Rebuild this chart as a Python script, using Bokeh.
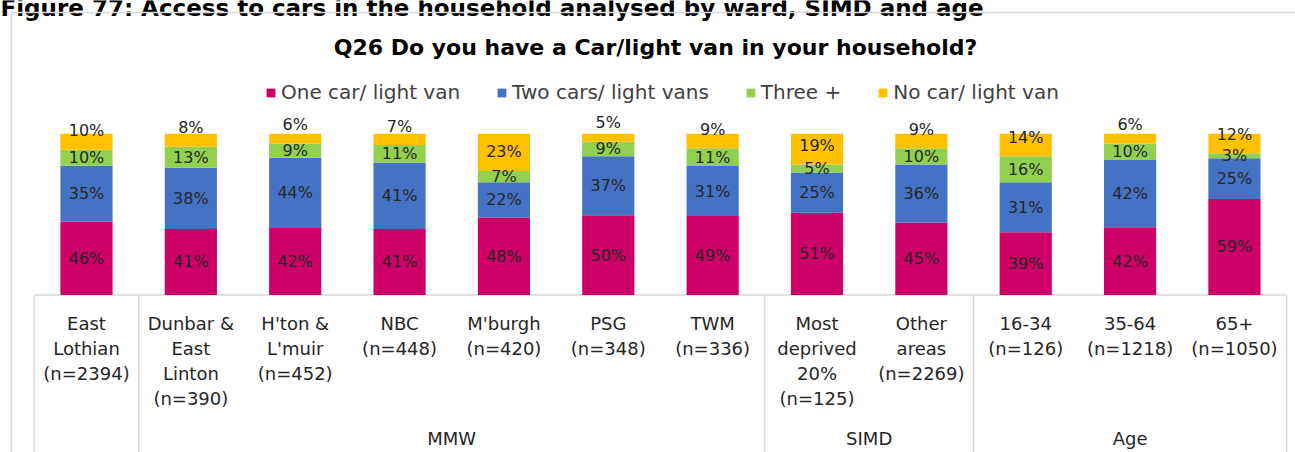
import numpy as np
from bokeh.plotting import figure
from bokeh.models import ColumnDataSource, Range1d, Legend, LegendItem
from bokeh.core.properties import value
from bokeh.embed import file_html
from bokeh.resources import INLINE

# ---------------- data ----------------
heading_text = "Figure 77: Access to cars in the household analysed by ward, SIMD and age"
title_text = "Q26 Do you have a Car/light van in your household?"
categories = [
    "East\nLothian\n(n=2394)",
    "Dunbar &\nEast\nLinton\n(n=390)",
    "H'ton &\nL'muir\n(n=452)",
    "NBC\n(n=448)",
    "M'burgh\n(n=420)",
    "PSG\n(n=348)",
    "TWM\n(n=336)",
    "Most\ndeprived\n20%\n(n=125)",
    "Other\nareas\n(n=2269)",
    "16-34\n(n=126)",
    "35-64\n(n=1218)",
    "65+\n(n=1050)",
]
groups = ["", "MMW", "MMW", "MMW", "MMW", "MMW", "MMW", "SIMD", "SIMD", "Age", "Age", "Age"]
series = ["One car/ light van", "Two cars/ light vans", "Three +", "No car/ light van"]
one_car = [46, 41, 42, 41, 48, 50, 49, 51, 45, 39, 42, 59]
two_cars = [35, 38, 44, 41, 22, 37, 31, 25, 36, 31, 42, 25]
three_plus = [10, 13, 9, 11, 7, 9, 11, 5, 10, 16, 10, 3]
no_car = [10, 8, 6, 7, 23, 5, 9, 19, 9, 14, 6, 12]
colors = ["#CC0066", "#4472C4", "#92D050", "#FFC000"]

# ---------------- layout helpers ----------------
W, H = 1295, 452
PAGE = 0
UX = 104.36      # px per category
X0 = 33.8        # x of category-axis start
UY = 1.612       # px per percent
Y0 = 294.5       # y of 0%


def dx(rx):
    return (rx - X0) / UX


def dy(ry):
    return (Y0 - ry) / UY


FONT = value("DejaVu Sans")
TXT = "#262626"
GRID = "#d9d9d9"

p = figure(width=W, height=H,
           x_range=Range1d(dx(PAGE), dx(PAGE + W)),
           y_range=Range1d(dy(PAGE + H), dy(PAGE)),
           output_backend="svg", toolbar_location=None,
           x_axis_location=None, y_axis_location=None,
           min_border=0, outline_line_color=None)
p.grid.visible = False
p.background_fill_color = "white"
p.border_fill_color = "white"

n = len(categories)
xs = np.arange(n) + 0.5

# page heading (cut off at the top, as in the source)
p.text(x=[dx(0)], y=[dy(7)], text=[heading_text], text_font=FONT,
       text_font_size="23px", text_font_style="bold",
       text_align="left", text_baseline="alphabetic", text_color="#000000")

# chart border (light grey box)
p.segment(x0=[dx(11), dx(11)], y0=[dy(12), dy(12)],
          x1=[dx(11), dx(1400)], y1=[dy(500), dy(12)],
          line_color=GRID, line_width=1.5)

# axis line + separators between groups
bounds = [0] + [i for i in range(1, n) if groups[i] != groups[i - 1]] + [n]
p.segment(x0=[0], y0=[0], x1=[n], y1=[0], line_color=GRID, line_width=1.5)
p.segment(x0=bounds, y0=[0] * len(bounds), x1=bounds, y1=[dy(500)] * len(bounds),
          line_color=GRID, line_width=1.5)

# bars (100% stacked)
raw = np.array([one_car, two_cars, three_plus, no_car], dtype=float)
tot = raw.sum(axis=0)
norm = raw / tot * 100.0
keys = ["s0", "s1", "s2", "s3"]
src = ColumnDataSource(dict(x=xs, **{k: norm[i] for i, k in enumerate(keys)}))
rends = p.vbar_stack(keys, x="x", width=0.5, color=colors, line_color=None, source=src)

# data labels
cum = np.cumsum(norm, axis=0)
bottoms = cum - norm
lx, ly, lt = [], [], []
for s in range(4):
    for i in range(n):
        if s < 3:
            yy = bottoms[s, i] + norm[s, i] / 2.0
        else:
            yy = bottoms[s, i] + 19.0 / UY
        lx.append(xs[i])
        ly.append(yy)
        lt.append(f"{int(raw[s, i])}%")
p.text(x=lx, y=ly, text=lt, text_font=FONT, text_font_size="16px",
       text_align="center", text_baseline="middle", text_color=TXT)

# category labels
cx, cy, ct = [], [], []
for i, cat in enumerate(categories):
    for j, line in enumerate(cat.split("\n")):
        cx.append(xs[i])
        cy.append(dy(322.5 + j * 25.3))
        ct.append(line)
p.text(x=cx, y=cy, text=ct, text_font=FONT, text_font_size="18px",
       text_align="center", text_baseline="middle", text_color=TXT)

# group labels
gx, gt = [], []
for a, b in zip(bounds[:-1], bounds[1:]):
    if groups[a]:
        gx.append((a + b) / 2.0)
        gt.append(groups[a])
p.text(x=gx, y=[dy(438)] * len(gx), text=gt, text_font=FONT, text_font_size="18px",
       text_align="center", text_baseline="middle", text_color=TXT)

# title
p.text(x=[dx(655)], y=[dy(47)], text=[title_text], text_font=FONT,
       text_font_size="22px", text_font_style="bold",
       text_align="center", text_baseline="middle", text_color="#000000")

# legend
legend = Legend(items=[LegendItem(label=series[i], renderers=[rends[i]]) for i in range(4)],
                orientation="horizontal", location=(265, 348),
                glyph_width=11, glyph_height=11, label_standoff=5, spacing=36,
                padding=0, margin=0, border_line_color=None, background_fill_alpha=0,
                label_text_font="DejaVu Sans", label_text_font_size="20px",
                label_text_color="#404040", label_height=22)
p.add_layout(legend)

open("out.html", "w").write(file_html(p, INLINE))
